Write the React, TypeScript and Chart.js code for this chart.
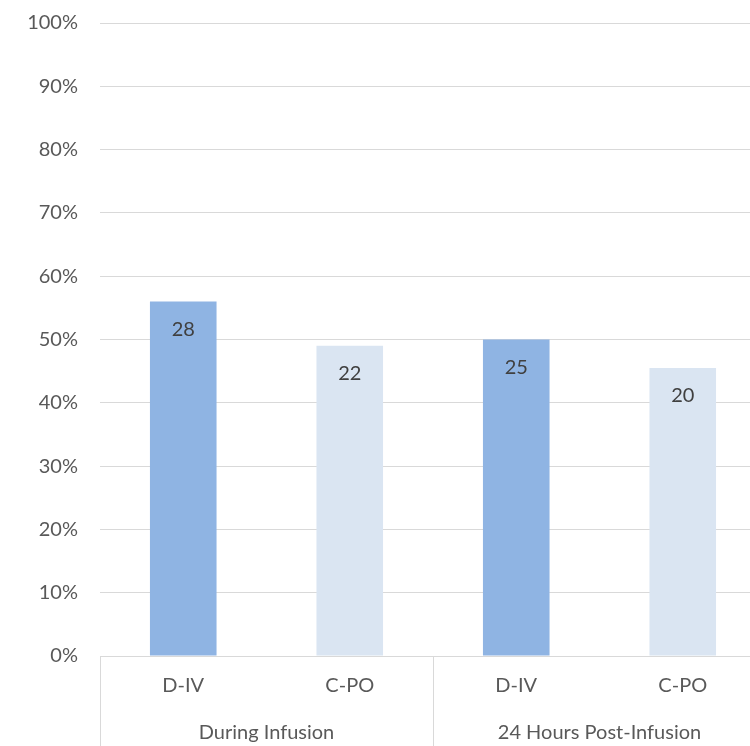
import React, { useEffect, useRef } from "react";
import { Chart, registerables } from "chart.js";

Chart.register(...registerables);

const categories = ["D-IV", "C-PO", "D-IV", "C-PO"];
const groupLabels = ["During Infusion", "24 Hours Post-Infusion"];
const percentValues = [56, 49, 50, 45.5];
const countLabels = ["28", "22", "25", "20"];
const barColors = ["#8FB4E3", "#DAE5F2", "#8FB4E3", "#DAE5F2"];

const FONT = "Lato, 'Noto Sans', sans-serif";

const dataLabelPlugin = {
  id: "countLabels",
  afterDatasetsDraw(chart: any) {
    const ctx = chart.ctx;
    const meta = chart.getDatasetMeta(0);
    ctx.save();
    ctx.font = `20px ${FONT}`;
    ctx.fillStyle = "#404040";
    ctx.textAlign = "center";
    ctx.textBaseline = "middle";
    meta.data.forEach((el: any, i: number) => {
      ctx.fillText(countLabels[i], el.x, el.y + 28);
    });
    ctx.restore();
  },
};

export default function App() {
  const ref = useRef<HTMLCanvasElement | null>(null);

  useEffect(() => {
    document.body.style.margin = "0";
    document.body.style.overflow = "hidden";
    if (!ref.current) return;
    const chart = new Chart(ref.current, {
      type: "bar",
      data: {
        labels: categories,
        datasets: [
          {
            data: percentValues,
            backgroundColor: barColors,
            borderWidth: 0,
            barPercentage: 0.4,
            categoryPercentage: 1,
          },
        ],
      },
      options: {
        animation: false,
        responsive: false,
        layout: { padding: { top: 23, right: 10, left: 0, bottom: 0 } },
        plugins: { legend: { display: false }, tooltip: { enabled: false } },
        scales: {
          y: {
            min: 0,
            max: 100,
            afterFit: (s: any) => {
              s.width = 100;
              s.paddingTop = 0;
              s.paddingBottom = 0;
            },
            ticks: {
              stepSize: 10,
              padding: 22,
              color: "#595959",
              font: { family: FONT, size: 20 },
              callback: (v: any) => `${v}%`,
            },
            grid: { color: "#D9D9D9", lineWidth: 1, drawTicks: false },
            border: { display: false },
          },
          x: {
            type: "category",
            position: "bottom",
            weight: 0,
            offset: true,
            afterFit: (s: any) => {
              s.height = 50;
            },
            grid: {
              offset: true,
              drawOnChartArea: false,
              drawTicks: true,
              tickLength: 90,
              lineWidth: 1,
              color: (c: any) =>
                c.index === undefined || c.index % 2 === 0 ? "#D9D9D9" : "rgba(0,0,0,0)",
            },
            border: { display: true, color: "#D9D9D9", width: 1 },
            ticks: {
              padding: -72,
              color: "#595959",
              font: { family: FONT, size: 20 },
              maxRotation: 0,
              autoSkip: false,
            },
          },
          x2: {
            type: "category",
            position: "bottom",
            weight: 1,
            labels: groupLabels,
            offset: true,
            afterFit: (s: any) => {
              s.height = 40;
            },
            grid: { display: false, drawTicks: false },
            border: { display: false },
            ticks: {
              padding: 15,
              color: "#595959",
              font: { family: FONT, size: 20 },
              maxRotation: 0,
              autoSkip: false,
            },
          },
        },
      },
      plugins: [dataLabelPlugin],
    });
    return () => chart.destroy();
  }, []);

  return (
    <div style={{ width: 776, height: 746 }}>
      <canvas ref={ref} width={776} height={746} style={{ display: "block" }} />
    </div>
  );
}
